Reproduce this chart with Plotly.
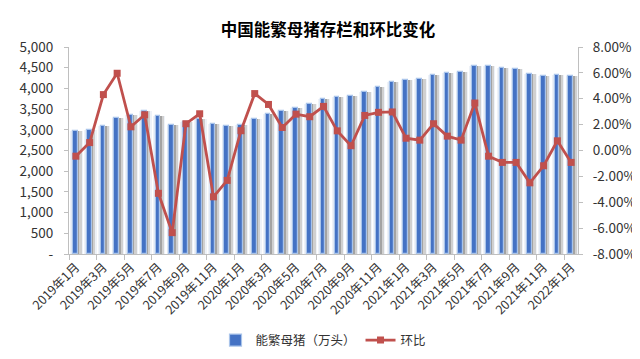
import plotly.graph_objects as go

months = ["2019年1月","2019年2月","2019年3月","2019年4月","2019年5月","2019年6月","2019年7月","2019年8月",
          "2019年9月","2019年10月","2019年11月","2019年12月","2020年1月","2020年2月","2020年3月","2020年4月",
          "2020年5月","2020年6月","2020年7月","2020年8月","2020年9月","2020年10月","2020年11月","2020年12月",
          "2021年1月","2021年2月","2021年3月","2021年4月","2021年5月","2021年6月","2021年7月","2021年8月",
          "2021年9月","2021年10月","2021年11月","2021年12月","2022年1月"]
sows = [2960, 2985, 3101, 3288, 3355, 3445, 3333, 3122, 3185, 3260, 3150, 3082, 3128, 3258, 3388, 3445,
        3535, 3632, 3755, 3800, 3815, 3915, 4043, 4158, 4205, 4232, 4315, 4362, 4400, 4552, 4535, 4495,
        4465, 4347, 4302, 4325, 4288]
mom = [-0.44, 0.61, 4.32, 5.97, 1.83, 2.76, -3.31, -6.35, 2.07, 2.84, -3.58, -2.31, 1.53, 4.40, 3.56, 1.78,
       2.81, 2.61, 3.41, 1.52, 0.37, 2.71, 2.95, 2.98, 0.95, 0.80, 2.07, 1.11, 0.80, 3.67, -0.44, -0.92,
       -0.92, -2.50, -1.18, 0.75, -0.92]
left_ticks = [0, 500, 1000, 1500, 2000, 2500, 3000, 3500, 4000, 4500, 5000]
left_text = ["-", "500", "1,000", "1,500", "2,000", "2,500", "3,000", "3,500", "4,000", "4,500", "5,000"]
right_ticks = [-8, -6, -4, -2, 0, 2, 4, 6, 8]
right_text = ["-8.00%", "-6.00%", "-4.00%", "-2.00%", "0.00%", "2.00%", "4.00%", "6.00%", "8.00%"]

FONT = "Noto Sans CJK SC"
n = len(months)

fig = go.Figure()
# pale backdrop column
fig.add_trace(go.Bar(x=months, y=sows, width=0.9, offset=-0.4, marker=dict(color="#EEF2F8", line=dict(width=0)),
                     showlegend=False, hoverinfo="skip"))
# shadow layers
fig.add_trace(go.Bar(x=months, y=sows, width=0.44, offset=-0.02, marker=dict(color="#D0D0D0", line=dict(width=0)),
                     showlegend=False, hoverinfo="skip"))
fig.add_trace(go.Bar(x=months, y=sows, width=0.28, offset=-0.02, marker=dict(color="#A3A3A3", line=dict(width=0)),
                     showlegend=False, hoverinfo="skip"))
# main bars
fig.add_trace(go.Bar(x=months, y=sows, width=0.34, offset=-0.2, name="能繁母猪（万头）",
                     marker=dict(color="#4472C4", line=dict(color="#A9C4EA", width=1.2))))
fig.add_trace(go.Scatter(x=months, y=mom, yaxis="y2", mode="lines+markers", name="环比",
                         line=dict(color="#C0504D", width=2.8),
                         marker=dict(symbol="square", size=7, color="#C0504D")))
# dummy trace for boundary tick axis
fig.add_trace(go.Scatter(x=[-0.5], y=[None], xaxis="x2", showlegend=False, hoverinfo="skip"))

fig.update_layout(
    width=640, height=359,
    margin=dict(l=58, r=61, t=39, b=97),
    paper_bgcolor="white", plot_bgcolor="white",
    barmode="overlay", bargap=0,
    font=dict(family=FONT, size=12, color="#333333"),
    title=dict(text="<b>中国能繁母猪存栏和环比变化</b>", x=0.5, xanchor="center", y=0.938, yanchor="middle",
               font=dict(family=FONT, size=16.5, color="#000000")),
    xaxis=dict(type="category", range=[-0.5, n - 0.5], tickmode="array", tickvals=months[::2],
               ticktext=months[::2], tickangle=-45, ticks="", showline=True, linecolor="#BFBFBF",
               linewidth=1, showgrid=False, tickfont=dict(size=12.5, color="#333333")),
    xaxis2=dict(overlaying="x", anchor="y", side="bottom", range=[-0.5, n - 0.5], tickmode="array",
                tickvals=[i - 0.5 for i in range(0, n, 2)], showticklabels=False, ticks="outside",
                ticklen=5, tickcolor="#BFBFBF", showgrid=False, showline=False, zeroline=False),
    yaxis=dict(range=[0, 5000], tickmode="array", tickvals=left_ticks, ticktext=left_text,
               showline=True, linecolor="#BFBFBF", ticks="outside", ticklen=4, tickcolor="#BFBFBF",
               ticklabelstandoff=8,
               showgrid=False, zeroline=False, tickfont=dict(size=13.5, color="#333333")),
    yaxis2=dict(range=[-8, 8], overlaying="y", side="right", tickmode="array", tickvals=right_ticks,
                ticktext=right_text, showline=True, linecolor="#BFBFBF", ticks="outside", ticklen=4,
                ticklabelstandoff=7,
                tickcolor="#BFBFBF", showgrid=False, zeroline=False, tickfont=dict(size=13.5, color="#333333")),
    legend=dict(orientation="h", x=0.5, xanchor="center", y=-0.345, yanchor="top",
                font=dict(size=12.5, color="#333333"), bgcolor="rgba(0,0,0,0)"),
)

fig.write_html("out.html")
